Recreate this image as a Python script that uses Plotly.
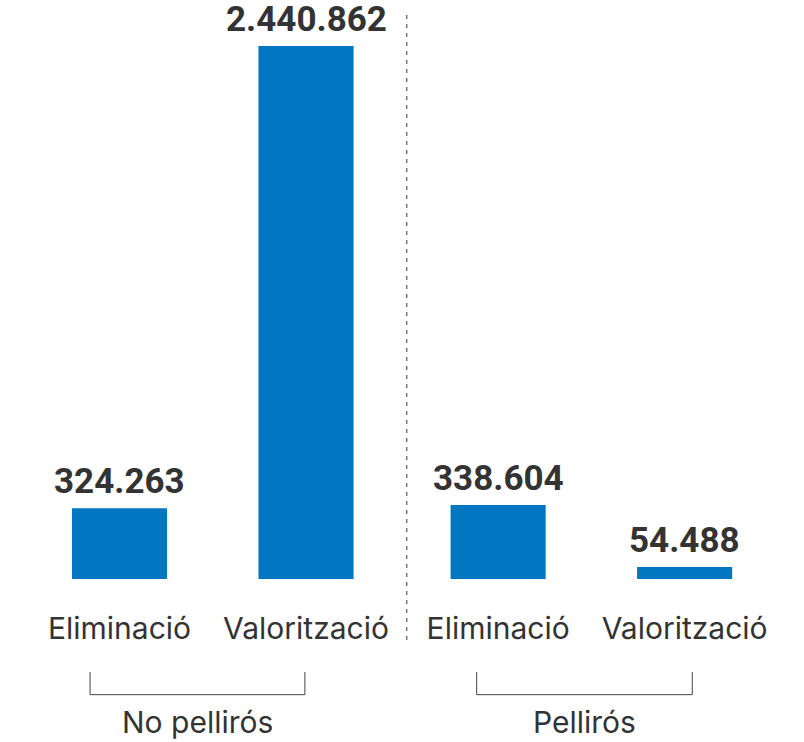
import plotly.graph_objects as go

groups = ["No pellirós", "Pellirós"]
categories = ["Eliminació", "Valorització", "Eliminació", "Valorització"]
group_of = [0, 0, 1, 1]
values = [324263, 2440862, 338604, 54488]
value_labels = ["324.263", "2.440.862", "338.604", "54.488"]

BLUE = "#0277C1"
TXT = "#333333"
FONT = "Inter"
BFONT = "Roboto"

gap = 0.03
xpos = [i + g * gap for i, g in enumerate(group_of)]

fig = go.Figure()
fig.add_trace(go.Bar(
    x=xpos, y=values, width=0.51, marker=dict(color=BLUE, line=dict(width=0)),
    hoverinfo="skip", cliponaxis=False,
))

for x, v, lab in zip(xpos, values, value_labels):
    fig.add_annotation(x=x, y=v, xref="x", yref="y", text=f"<b>{lab}</b>",
                       showarrow=False, yanchor="middle", yshift=27,
                       font=dict(family=BFONT, size=35, color=TXT))

# dashed separator
sep = (xpos[1] + xpos[2]) / 2 + 0.025
fig.add_shape(type="line", xref="x", yref="paper", x0=sep, x1=sep, y0=1.058, y1=-0.118,
              line=dict(color="#666666", width=1.3, dash="4px,5px"))

# group brackets
brackets = [(-0.158, 0.994), (1.915, 3.071)]
for (a, b), gname in zip(brackets, groups):
    fig.add_shape(type="path", xref="x", yref="paper",
                  path=f"M {a},-0.1745 L {a},-0.217 L {b},-0.217 L {b},-0.1745",
                  line=dict(color="#444444", width=1))
    fig.add_annotation(x=(a + b) / 2, y=-0.268, xref="x", yref="paper", text=gname,
                       showarrow=False, yanchor="middle",
                       font=dict(family=FONT, size=30, color=TXT))

fig.update_layout(
    width=804, height=742,
    margin=dict(l=0, r=0, t=46, b=163),
    plot_bgcolor="white", paper_bgcolor="white",
    showlegend=False,
    xaxis=dict(range=[-0.6408, 3.670], tickvals=xpos, ticktext=categories,
               showgrid=False, zeroline=False, showline=False, ticks="",
               ticklabelstandoff=29,
               tickfont=dict(family=FONT, size=30, color=TXT)),
    yaxis=dict(range=[0, max(values)], visible=False),
)

fig.write_html("out.html", config={"displayModeBar": False},
               post_script="document.body.style.margin='0';document.body.style.overflow='hidden';")
